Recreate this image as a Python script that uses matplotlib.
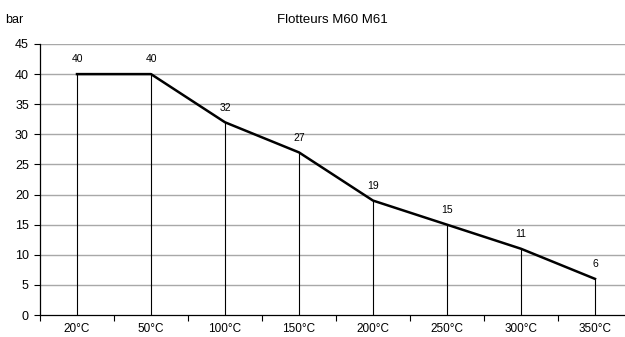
import matplotlib
matplotlib.use('Agg')
import matplotlib.pyplot as plt
import numpy as np

plt.rcParams['font.family'] = ['Liberation Sans', 'DejaVu Sans']

# Chart data
categories = ['20°C', '50°C', '100°C', '150°C', '200°C', '250°C', '300°C', '350°C']
pressure_bar = [40, 40, 32, 27, 19, 15, 11, 6]
y_ticks = [0, 5, 10, 15, 20, 25, 30, 35, 40, 45]

W, H = 625, 337
fig = plt.figure(figsize=(W / 100, H / 100), dpi=100)
fig.patch.set_facecolor('white')

# axes spans x 40..632 px (category band runs slightly past the image edge)
ax = fig.add_axes([40 / W, (H - 315) / H, 592 / W, 271 / H])
ax.set_facecolor('white')

x = np.arange(len(categories))

# horizontal gridlines
for yv in y_ticks[1:]:
    ax.axhline(yv, color='#a8a8a8', linewidth=1.0, zorder=0)

# vertical drop lines from each point
ax.vlines(x, 0, pressure_bar, colors='black', linewidth=0.8, zorder=2)

# main line
ax.plot(x, pressure_bar, color='black', linewidth=1.8, zorder=3,
        solid_joinstyle='round')

# data labels
for xi, v in zip(x, pressure_bar):
    ax.annotate(str(v), (xi, v), xytext=(0, 7), textcoords='offset points',
                ha='center', va='bottom', fontsize=7.5, color='black')

ax.set_xlim(-0.5, len(categories) - 0.5)
ax.set_ylim(0, 45)

ax.set_yticks(y_ticks)
ax.set_yticklabels([str(v) for v in y_ticks], fontsize=9)
ax.set_xticks(x)
ax.set_xticklabels(categories, fontsize=8.5)
ax.tick_params(axis='x', which='major', length=0, pad=6)
ax.set_xticks(np.arange(len(categories) + 1) - 0.5, minor=True)
ax.tick_params(axis='x', which='minor', length=4, width=0.8, direction='out')
ax.tick_params(axis='y', length=4, width=0.8, direction='out', pad=4)

for side in ['top', 'right']:
    ax.spines[side].set_visible(False)
for side in ['left', 'bottom']:
    ax.spines[side].set_linewidth(0.9)
    ax.spines[side].set_color('black')

fig.text(332 / W, 1 - 20 / H, 'Flotteurs M60 M61', ha='center', va='center',
         fontsize=9.5)
fig.text(5 / W, 1 - 20 / H, 'bar', ha='left', va='center', fontsize=9)

fig.savefig('out.png', dpi=100, facecolor='white')
